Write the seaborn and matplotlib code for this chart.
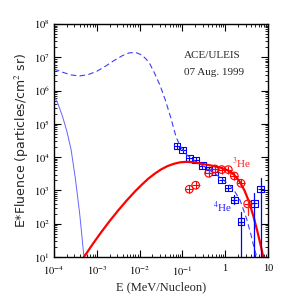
import numpy as np
import pandas as pd
import matplotlib
matplotlib.use("Agg")
import matplotlib.pyplot as plt
import seaborn as sns
from matplotlib.ticker import LogLocator, NullFormatter

sns.set_theme(style="ticks")
plt.rcParams['font.family'] = ['Liberation Serif', 'DejaVu Serif']
plt.rcParams['mathtext.fontset'] = 'stix'

# ---- data (log10 values) ----
he4_logE = [-1.126, -0.993, -0.839, -0.69, -0.535, -0.386, -0.238, -0.082, 0.073, 0.213, 0.369, 0.68, 0.83]
he4_logF = [4.336, 4.216, 3.967, 3.916, 3.745, 3.616, 3.556, 3.315, 3.066, 2.715, 2.06, 2.615, 3.036]
he4_err_lo = [4.336, 4.216, 3.967, 3.916, 3.745, 3.616, 3.556, 3.315, 3.066, 2.60, 0.0, 0.0, 0.0]
he4_err_hi = [4.336, 4.216, 3.967, 3.916, 3.745, 3.616, 3.556, 3.315, 3.066, 2.85, 2.36, 2.92, 3.37]

he3_logE = [-0.839, -0.69, -0.386, -0.238, -0.082, 0.073, 0.213, 0.369, 0.525]
he3_logF = [3.036, 3.156, 3.516, 3.646, 3.626, 3.626, 3.435, 3.216, 2.595]
he3_err_lo = [3.036, 3.156, 3.516, 3.646, 3.626, 3.626, 3.435, 3.216, 2.26]
he3_err_hi = [3.036, 3.156, 3.516, 3.646, 3.626, 3.626, 3.435, 3.216, 2.70]

red_logE = [-3.30, -3.1, -2.9, -2.7, -2.5, -2.3, -2.1, -1.95, -1.8, -1.65, -1.5, -1.35, -1.2,
            -1.05, -0.9, -0.7, -0.5, -0.3, -0.1, 0.05, 0.2, 0.33, 0.45, 0.56, 0.66, 0.75, 0.82, 0.89]
red_logF = [1.0, 1.38, 1.74, 2.08, 2.40, 2.70, 2.98, 3.17, 3.35, 3.50, 3.63, 3.73, 3.80,
            3.845, 3.86, 3.84, 3.79, 3.74, 3.68, 3.61, 3.48, 3.28, 3.00, 2.65, 2.22, 1.78, 1.40, 1.0]

bdash_logE = [-4.0, -3.8, -3.6, -3.4, -3.2, -3.0, -2.8, -2.6, -2.4, -2.25, -2.1, -1.95, -1.85, -1.76,
              -1.65, -1.52, -1.40, -1.28, -1.15, -1.05, -0.9, -0.7, -0.5, -0.3, -0.1, 0.05, 0.2,
              0.35, 0.5, 0.6, 0.68, 0.74]
bdash_logF = [6.65, 6.55, 6.47, 6.44, 6.48, 6.58, 6.73, 6.90, 7.05, 7.13, 7.15, 7.07, 6.95, 6.80,
              6.52, 6.15, 5.72, 5.22, 4.62, 4.32, 4.07, 3.88, 3.72, 3.56, 3.37, 3.22, 3.02,
              2.70, 2.15, 1.68, 1.25, 1.0]

bsolid_logE = [-4.0, -3.9, -3.8, -3.7, -3.6, -3.5, -3.4, -3.3]
bsolid_logF = [5.85, 5.58, 5.22, 4.78, 4.22, 3.35, 2.30, 1.0]

# ---- figure ----
fig = plt.figure(figsize=(2.94, 2.94), dpi=100)
ax = fig.add_axes([54/294, 1-257/294, 214/294, 233/294])

pw = lambda v: np.power(10.0, np.array(v))

sns.lineplot(x=pw(bsolid_logE), y=pw(bsolid_logF), ax=ax, color='#6464ff', lw=0.7, sort=False)
sns.lineplot(x=pw(bdash_logE), y=pw(bdash_logF), ax=ax, color='#3c3cff', lw=0.8, sort=False,
             linestyle=(0, (5, 3)))
sns.lineplot(x=pw(red_logE), y=pw(red_logF), ax=ax, color='#ff0000', lw=1.6, sort=False)

# error bars
for x, lo, hi in zip(pw(he4_logE), pw(he4_err_lo), pw(he4_err_hi)):
    if hi > lo:
        ax.plot([x, x], [max(lo, 1), hi], color='#0000ff', lw=0.9)
for x, lo, hi in zip(pw(he3_logE), pw(he3_err_lo), pw(he3_err_hi)):
    if hi > lo:
        ax.plot([x, x], [lo, hi], color='#ff2020', lw=0.9)

df4 = pd.DataFrame({'E': pw(he4_logE), 'F': pw(he4_logF)})
df3 = pd.DataFrame({'E': pw(he3_logE), 'F': pw(he3_logF)})
sns.scatterplot(data=df4, x='E', y='F', ax=ax, marker='s', s=22, facecolor='none',
                edgecolor='#0000ff', linewidth=0.8)
sns.scatterplot(data=df4, x='E', y='F', ax=ax, marker='+', s=22, color='#0000ff', linewidth=0.8)
sns.scatterplot(data=df3, x='E', y='F', ax=ax, marker='o', s=30, facecolor='none',
                edgecolor='#ff0000', linewidth=0.8)
sns.scatterplot(data=df3, x='E', y='F', ax=ax, marker='+', s=30, color='#ff0000', linewidth=0.8)

ax.set_xscale('log')
ax.set_yscale('log')
ax.set_xlim(1e-4, 10)
ax.set_ylim(10, 1e8)

ax.xaxis.set_minor_locator(LogLocator(base=10, subs=np.arange(2, 10), numticks=20))
ax.yaxis.set_minor_locator(LogLocator(base=10, subs=np.arange(2, 10), numticks=20))
ax.xaxis.set_minor_formatter(NullFormatter())
ax.yaxis.set_minor_formatter(NullFormatter())
ax.set_xticks([1e-4, 1e-3, 1e-2, 1e-1, 1, 10])
ax.set_xticklabels(['$10^{-4}$', '$10^{-3}$', '$10^{-2}$', '$10^{-1}$', '1', '10'])
ax.set_yticks([10**k for k in range(1, 9)])
ax.set_yticklabels(['$10^{%d}$' % k for k in range(1, 9)])

ax.tick_params(which='both', direction='in', top=True, right=True, labelsize=7.5, colors='black')
ax.tick_params(axis='x', which='major', pad=5)
ax.tick_params(axis='y', which='major', pad=3)
ax.tick_params(which='major', length=5, width=0.8)
ax.tick_params(which='minor', length=2.5, width=0.6)
for sp in ax.spines.values():
    sp.set_linewidth(1.0)
    sp.set_color('black')

ax.set_xlabel('E (MeV/Nucleon)', fontsize=9, labelpad=3)
ax.set_ylabel('E*Fluence (particles/cm$^2$ sr)', fontsize=9, labelpad=2,
              family=['DejaVu Sans'])

ax.text(0.607, 0.853, 'ACE/ULEIS', transform=ax.transAxes, fontsize=8)
ax.text(0.607, 0.78, '07 Aug. 1999', transform=ax.transAxes, fontsize=8)
ax.text(0.83, 0.382, '$^3$He', transform=ax.transAxes, fontsize=8, color='#ff2020')
ax.text(0.743, 0.193, '$^4$He', transform=ax.transAxes, fontsize=8, color='#2020ff')

fig.savefig('out.png', dpi=100)
